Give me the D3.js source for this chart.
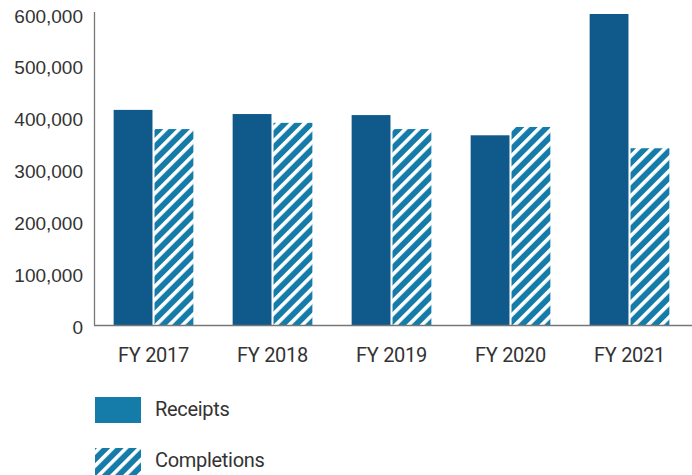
<!DOCTYPE html>
<html><head><meta charset="utf-8">
<script src="https://cdn.jsdelivr.net/npm/d3@7"></script>
<style>body{margin:0;background:#fff}svg{display:block}</style>
</head><body>
<svg id="c" width="692" height="475"></svg>
<script>
const categories = ["FY 2017","FY 2018","FY 2019","FY 2020","FY 2021"];
const receipts = [415000, 407000, 405000, 366000, 600000];
const completions = [378000, 390000, 378000, 382000, 341000];
const yTicks = [0,100000,200000,300000,400000,500000,600000];
const seriesNames = ["Receipts","Completions"];

const svg = d3.select("#c");
const dark = "#0f5a8b", light = "#157ba9", txt = "#333";
const defs = svg.append("defs");
const pat = defs.append("pattern").attr("id","hatch").attr("patternUnits","userSpaceOnUse")
  .attr("width",9.4).attr("height",9.4).attr("patternTransform","rotate(45)");
pat.append("rect").attr("width",9.4).attr("height",9.4).attr("fill",light);
pat.append("rect").attr("width",3.6).attr("height",9.4).attr("fill","#fff");

const x0 = d3.scaleBand().domain(categories).range([94,689]).paddingInner(0.33).paddingOuter(0.165);
const x1 = d3.scaleBand().domain(seriesNames).range([0,x0.bandwidth()]).paddingInner(0.05);
const y = d3.scaleLinear().domain([0,600000]).range([325,14]);

const g = svg.append("g");
categories.forEach((c,i)=>{
  g.append("rect").attr("x",x0(c)+x1("Receipts")).attr("y",y(receipts[i]))
    .attr("width",x1.bandwidth()).attr("height",y(0)-y(receipts[i])).attr("fill",dark);
  g.append("rect").attr("x",x0(c)+x1("Completions")).attr("y",y(completions[i]))
    .attr("width",x1.bandwidth()).attr("height",y(0)-y(completions[i])).attr("fill","url(#hatch)");
});

// axes lines
svg.append("line").attr("x1",94.5).attr("x2",94.5).attr("y1",12).attr("y2",325.5).attr("stroke","#777").attr("stroke-width",1.3);
svg.append("line").attr("x1",94).attr("x2",692).attr("y1",325.5).attr("y2",325.5).attr("stroke","#777").attr("stroke-width",1.3);

const fmt = d3.format(",");
svg.append("g").selectAll("text").data(yTicks).join("text")
  .attr("x",83).attr("y",d=>y(d)+2).attr("dy","0.35em").attr("text-anchor","end")
  .attr("font-family","Liberation Sans, Arial, sans-serif").attr("font-size",19).attr("fill",txt)
  .text(d=>fmt(d));

svg.append("g").selectAll("text").data(categories).join("text")
  .attr("x",d=>x0(d)+x0.bandwidth()/2).attr("y",362).attr("text-anchor","middle")
  .attr("font-family","Roboto, sans-serif").attr("font-size",20).attr("letter-spacing",-0.3).attr("fill",txt)
  .text(d=>d);

// legend
const leg = svg.append("g");
leg.append("rect").attr("x",95).attr("y",397).attr("width",46).attr("height",26).attr("fill",light);
leg.append("rect").attr("x",95).attr("y",448).attr("width",46).attr("height",27).attr("fill","url(#hatch)");
leg.selectAll("text").data(seriesNames).join("text")
  .attr("x",155).attr("y",(d,i)=>409+i*51).attr("dy","0.35em")
  .attr("font-family","Roboto, sans-serif").attr("font-size",20).attr("letter-spacing",-0.3).attr("fill",txt)
  .text(d=>d);
</script>
</body></html>
